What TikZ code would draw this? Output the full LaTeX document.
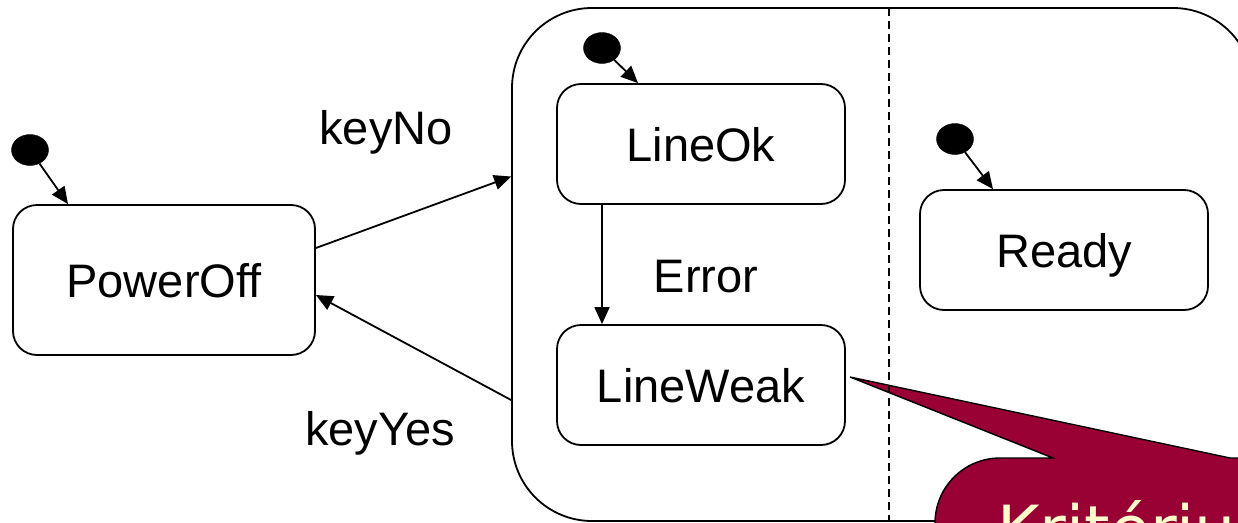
\documentclass[tikz,border=0pt]{standalone}
\usepackage{fontspec}
\setmainfont{Liberation Sans}
\newfontfamily\callfont{DejaVu Sans}
\usetikzlibrary{arrows.meta,shapes.geometric}
\definecolor{callred}{HTML}{990033}
\definecolor{callyellow}{HTML}{FFFFCC}
\tikzset{
  statebox/.style={draw, line width=1.8pt, rounded corners=24pt, minimum width=288pt, minimum height=120pt, inner sep=0pt,
    font=\fontsize{47}{56}\selectfont, text height=34pt, text depth=0pt},
  initdot/.style={ellipse, fill=black, draw=black, minimum width=37pt, minimum height=31pt, inner sep=0pt},
  trans/.style={line width=1.8pt, -{Triangle[length=17pt,width=15pt]}},
  lbl/.style={font=\fontsize{47}{56}\selectfont, anchor=base, inner sep=0pt},
}
\begin{document}
\begin{tikzpicture}[x=1pt,y=-1pt]
\useasboundingbox (0,0) rectangle (1238,522);
\clip (0,0) rectangle (1238,522);
% container
\node[draw, line width=1.8pt, rounded corners=80pt, minimum width=741pt, minimum height=513pt, inner sep=0pt] (C) at (882.5,264.5) {};
% callout
\draw[fill=callred, line width=1.4pt] (935,700) -- (935,523) arc[start angle=180, end angle=270, radius=65] -- (1053,458) -- (850,377) -- (1230,458) -- (1400,458) -- (1400,700) -- cycle;
\node[font=\callfont\fontsize{65}{78}\selectfont, text=callyellow, anchor=base west, inner sep=0pt] (crit) at (997,552) {Kritérium};
% region separator
\coordinate (sepTop) at (889,8);
\coordinate (sepBot) at (889,521);
\draw[line width=1.8pt, dash pattern=on 8pt off 5pt] (sepTop) -- (sepBot);
% states
\node[statebox, minimum width=302pt, minimum height=150pt] (PowerOff) at (164,280) {PowerOff};
\node[statebox] (LineOk) at (701,144) {LineOk};
\node[statebox] (LineWeak) at (701,385) {LineWeak};
\node[statebox] (Ready) at (1064,250) {Ready};
% initial pseudostates
\node[initdot] (i1) at (30,150) {};
\node[initdot] (i2) at (602,48) {};
\node[initdot] (i3) at (955,139) {};
\draw[trans] (i1) -- ([xshift=-96pt]PowerOff.north);
\draw[trans] (i2) -- ([xshift=-63pt]LineOk.north);
\draw[trans] (i3) -- ([xshift=-71pt]Ready.north);
% transitions
\draw[trans] ([yshift=32pt]PowerOff.east) -- ([yshift=88pt]C.west);
\draw[trans] ([yshift=-135.5pt]C.west) -- ([yshift=-15pt]PowerOff.east);
\draw[trans] ([xshift=-99pt]LineOk.south) -- ([xshift=-99pt]LineWeak.north);
% labels
\node[lbl] (lNo) at (386,144) {keyNo};
\node[lbl] (lYes) at (380,445) {keyYes};
\node[lbl] (lErr) at (706,292) {Error};
\end{tikzpicture}
\end{document}
